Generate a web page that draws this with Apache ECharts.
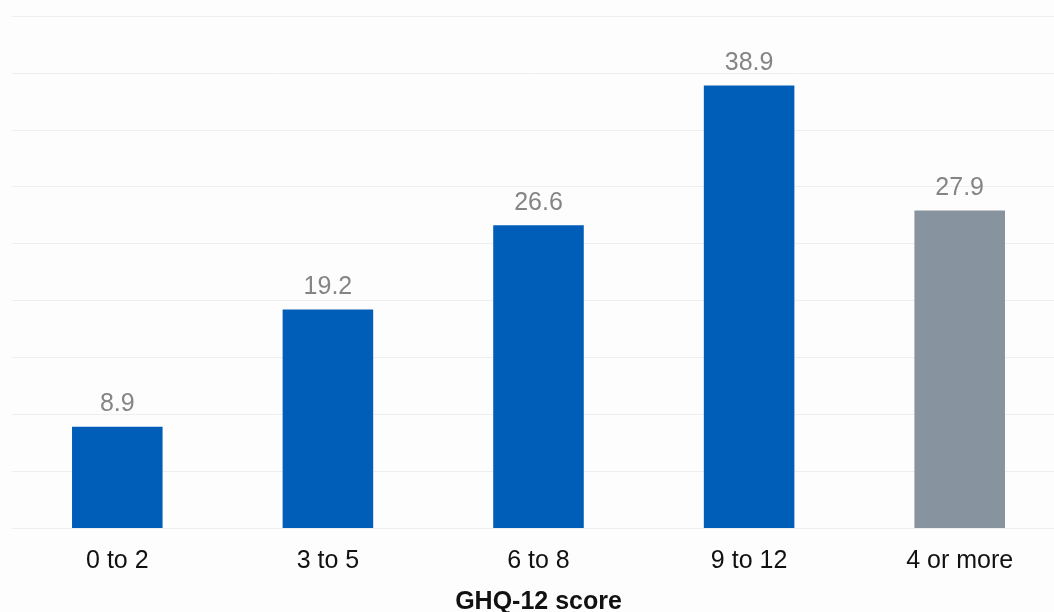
<!DOCTYPE html>
<html><head><meta charset="utf-8">
<style>html,body{margin:0;padding:0;background:#fdfdfd;}#c{width:1054px;height:612px;}</style>
<script src="https://cdn.jsdelivr.net/npm/echarts@6/dist/echarts.min.js"></script>
</head><body><div id="c"></div>
<script>
const categories = ['0 to 2', '3 to 5', '6 to 8', '9 to 12', '4 or more'];
const values = [8.9, 19.2, 26.6, 38.9, 27.9];
const barColors = ['#005EB8', '#005EB8', '#005EB8', '#005EB8', '#87939E'];
const xTitle = 'GHQ-12 score';

const chart = echarts.init(document.getElementById('c'), null, {renderer: 'canvas'});
chart.setOption({
  backgroundColor: '#fdfdfd',
  animation: false,
  grid: {left: 12, width: 1053, top: 16, height: 512, containLabel: false, outerBoundsMode: 'none'},
  xAxis: {
    type: 'category', data: categories,
    name: xTitle, nameLocation: 'middle', nameGap: 62,
    nameTextStyle: {fontFamily: 'Liberation Sans, Arial', fontSize: 25, fontWeight: 'bold', color: '#111'},
    axisLine: {show: false}, axisTick: {show: false},
    axisLabel: {fontFamily: 'Liberation Sans, Arial', fontSize: 25, color: '#111', margin: 21}
  },
  yAxis: {
    type: 'value', min: 0, max: 45, interval: 5,
    axisLabel: {show: false}, axisLine: {show: false}, axisTick: {show: false},
    splitLine: {lineStyle: {color: '#eeeeee', width: 1}}
  },
  series: [{
    type: 'bar', barWidth: '43%',
    data: values.map((v, i) => ({value: v, itemStyle: {color: barColors[i]}})),
    label: {show: true, position: 'top', distance: 10, fontFamily: 'Liberation Sans, Arial', fontSize: 25, color: '#858585',
      formatter: p => p.value.toFixed(1)}
  }]
});
</script></body></html>
